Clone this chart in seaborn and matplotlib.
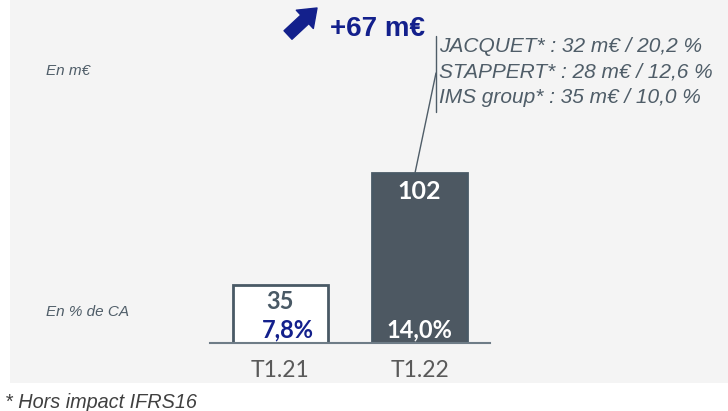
import matplotlib
matplotlib.use("Agg")
import matplotlib.pyplot as plt
import seaborn as sns
from matplotlib.patches import Rectangle

# données
periodes = ["T1.21", "T1.22"]
valeurs = [35, 102]
taux = ["7,8%", "14,0%"]
hausse = "+67 m€"
acquisitions = [
    "JACQUET* : 32 m€ / 20,2 %",
    "STAPPERT* : 28 m€ / 12,6 %",
    "IMS group* : 35 m€ / 10,0 %",
]

ardoise = "#495965"
marine = "#13208c"
gris_texte = "#4f5d68"

sns.set_theme(style="white")
plt.rcParams["font.family"] = ["Liberation Sans", "DejaVu Sans"]

fig = plt.figure(figsize=(7.28, 4.11), dpi=100)
fig.patch.set_facecolor("white")
# panneau gris de fond
fig.patches.append(Rectangle((10 / 728, 28 / 411), 1, 1, transform=fig.transFigure,
                             facecolor="#f4f4f4", edgecolor="none", zorder=-10))

ax = fig.add_axes([210 / 728, 68 / 411, 280 / 728, 333 / 411])
ax.set_facecolor("none")
sns.barplot(x=periodes, y=valeurs, hue=periodes, palette=["white", ardoise],
            legend=False, width=0.68, ax=ax)
for p in ax.patches:
    p.set_edgecolor(ardoise)
    p.set_linewidth(2)
ax.set_xlim(-0.507, 1.507)
ax.set_ylim(0, 200)
ax.set_xlabel("")
ax.set_ylabel("")
ax.set_yticks([])
sns.despine(ax=ax, left=True)
ax.spines["bottom"].set_color("#6e7c87")
ax.spines["bottom"].set_linewidth(1.5)
ax.tick_params(axis="x", length=0, pad=12, labelsize=16.5, labelcolor="#595959")
for lab in ax.get_xticklabels():
    lab.set_fontfamily("Lato")

# étiquettes dans les barres
ax.text(0, valeurs[0] - 10, str(valeurs[0]), ha="center", va="center", fontsize=17,
        fontweight="bold", color=ardoise, family="Lato")
ax.text(0.05, 8, taux[0], ha="center", va="center", fontsize=17,
        fontweight="bold", color=marine, family="Lato")
ax.text(1, valeurs[1] - 11, str(valeurs[1]), ha="center", va="center", fontsize=18,
        fontweight="bold", color="white", family="Lato")
ax.text(1, 8, taux[1], ha="center", va="center", fontsize=17,
        fontweight="bold", color="white", family="Lato")

# flèche et hausse
fig.text(330 / 728, 1 - 29 / 411, hausse, ha="left", va="center", fontsize=20,
         fontweight="bold", color=marine)
ax.annotate("", xy=(317, 403), xytext=(288, 376), xycoords="figure pixels",
            textcoords="figure pixels", annotation_clip=False,
            arrowprops=dict(arrowstyle="simple,head_width=1.5,head_length=1.0,tail_width=0.7",
                            color=marine, mutation_scale=12, shrinkA=0, shrinkB=0))

# détail des acquisitions
for i, ligne in enumerate(acquisitions):
    fig.text(439 / 728, 1 - (46 + 25.5 * i) / 411, ligne, ha="left", va="center",
             fontsize=15, style="italic", color=gris_texte)
fig.add_artist(plt.Line2D([436 / 728, 436 / 728], [1 - 36 / 411, 1 - 112 / 411],
                          color=gris_texte, lw=1))
fig.add_artist(plt.Line2D([415 / 728, 436 / 728], [1 - 173 / 411, 1 - 73 / 411],
                          color=gris_texte, lw=1))

fig.text(46 / 728, 1 - 71 / 411, "En m€", ha="left", va="center", fontsize=11,
         style="italic", color=gris_texte)
fig.text(46 / 728, 1 - 312 / 411, "En % de CA", ha="left", va="center", fontsize=11,
         style="italic", color=gris_texte)
fig.text(5 / 728, 1 - 402 / 411, "* Hors impact IFRS16", ha="left", va="center",
         fontsize=14.3, style="italic", color="#404040")

fig.savefig("out.png", dpi=100, facecolor=fig.get_facecolor())
